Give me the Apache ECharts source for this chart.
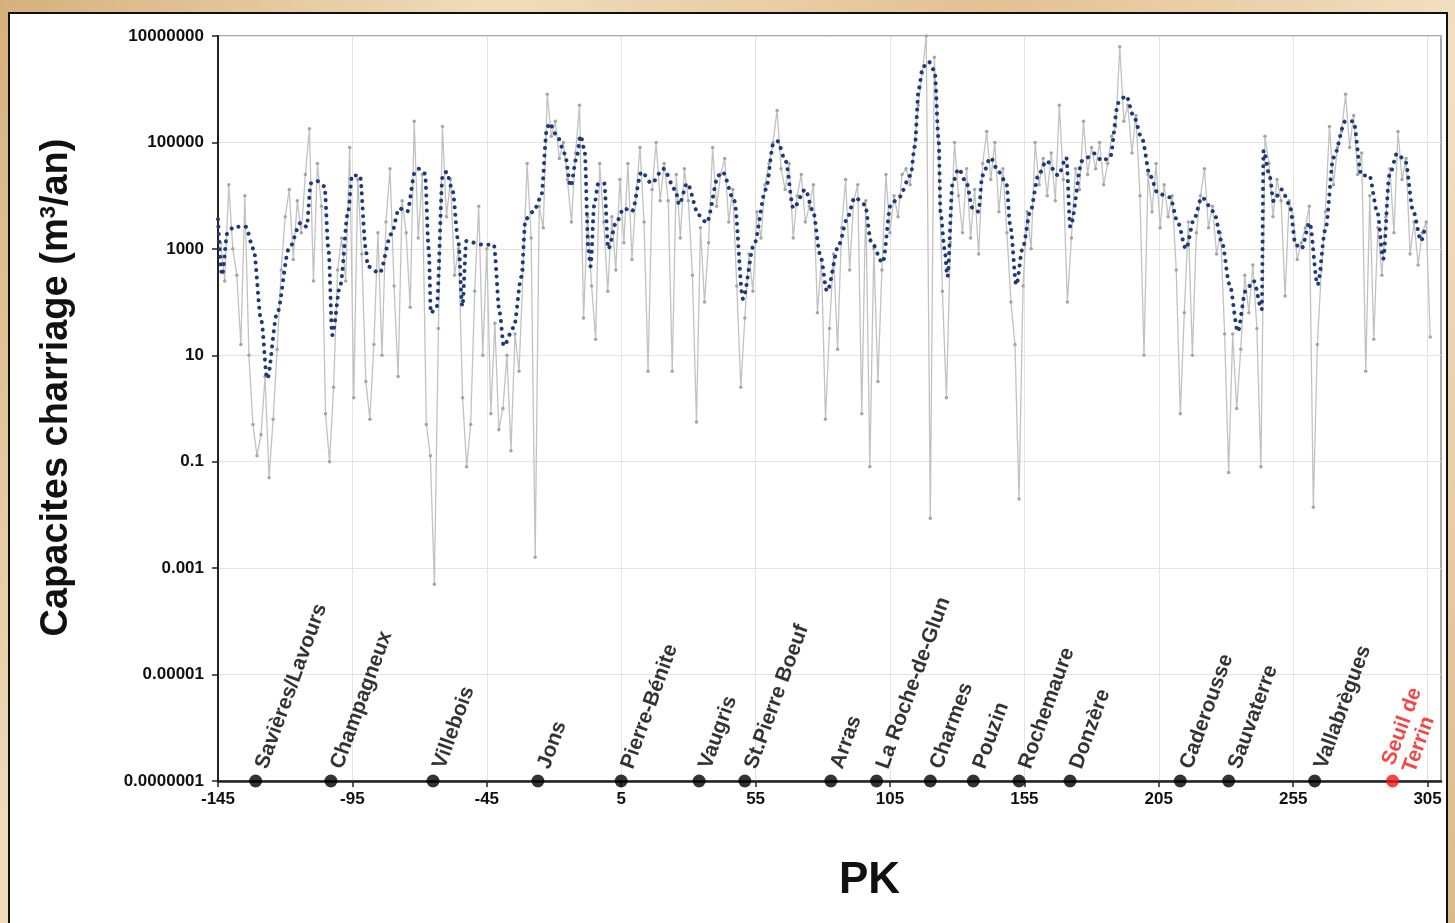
<!DOCTYPE html>
<html><head><meta charset="utf-8">
<script src="https://cdn.jsdelivr.net/npm/echarts@6/dist/echarts.min.js"></script>
<style>
html,body{margin:0;padding:0;width:1455px;height:923px;overflow:hidden;
background:linear-gradient(120deg,#d6b07c 0%,#f0dcbc 25%,#e3c193 50%,#f2e0c4 75%,#dcb98a 100%);}
#panel{position:absolute;left:8px;top:12px;width:1440px;height:920px;background:#fff;border:2px solid #111;box-sizing:border-box;}
#chart{position:absolute;left:0;top:0;width:1455px;height:923px;}
</style></head><body><div id="panel"></div><div id="chart"></div>
<script>
// ---- Axis ticks ----
const xTicks = [-145, -95, -45, 5, 55, 105, 155, 205, 255, 305];
const yTickValues = [1e-7, 1e-5, 1e-3, 1e-1, 10, 1000, 100000, 10000000];
const yTickLabels = ['0.0000001', '0.00001', '0.001', '0.1', '10', '1000', '100000', '10000000'];

// ---- Raw capacities (grey), one value every 1.5 km starting at PK -144 ----
const grayStart = -144;
const grayStep = 1.5;
const grayValues = [
  1.3e3, 2.5e2, 1.6e4, 1e3, 3.2e2, 16, 1e4, 10, 0.5, 0.13,
  0.32, 4, 0.05, 0.63, 13, 400, 4e3, 1.3e4, 630, 8e3,
  2e3, 2.5e4, 1.8e5, 250, 4e4, 6.3e3, 0.8, 0.1, 2.5, 400,
  1.6e3, 250, 8e4, 1.6, 2e4, 800, 3.2, 0.63, 16, 2e3,
  10, 3.2e3, 3.2e4, 200, 4, 8e3, 2e3, 80, 2.5e5, 1.6e3,
  2.5e4, 0.5, 0.13, 5e-4, 32, 2e5, 4e3, 2e4, 320, 1e3,
  1.6, 0.08, 0.5, 160, 6.3e3, 10, 1e3, 0.8, 40, 0.4,
  1, 10, 0.16, 25, 5, 400, 4e4, 1.6e3, 1.6e-3, 6.3e3,
  2.5e3, 8e5, 1.3e5, 2.5e5, 5e4, 1e5, 2e4, 3.2e3, 6.3e4, 5e5,
  50, 4e3, 200, 20, 4e4, 3.2e3, 160, 4e3, 400, 2e4,
  1.3e3, 4e4, 630, 1e4, 8e4, 3.2e3, 5, 1.3e4, 1e5, 8e3,
  4e4, 8e3, 5, 2.5e4, 1.6e3, 3.2e4, 8e3, 320, 0.56, 2.5e3,
  100, 1.3e3, 8e4, 6.3e3, 2.5e4, 5e4, 3.2e3, 1.3e4, 200, 2.5,
  50, 800, 160, 5e3, 1.6e3, 1.6e4, 4e4, 1e5, 4e5, 3.2e4,
  1.3e4, 4e4, 1.6e3, 1e4, 2.5e4, 3.2e3, 6.3e3, 1.6e4, 63, 630,
  0.63, 32, 800, 13, 2.5e3, 2e4, 400, 8e3, 1.6e4, 0.8,
  8e3, 0.08, 1e3, 3.2, 400, 2.5e4, 2e3, 1e4, 4e3, 2.5e4,
  3.2e4, 1.6e4, 8e4, 5e5, 2e6, 1e7, 8.7e-3, 4e6, 1e5, 160,
  1.6, 1.3e3, 1e5, 1e4, 2e3, 3.2e4, 1.6e3, 1.3e4, 800, 4e4,
  1.6e5, 2e4, 1e5, 5e3, 3.2e4, 2e3, 100, 16, 0.02, 200,
  5e3, 1e3, 1e5, 1.6e4, 5e4, 1e4, 6.3e4, 8e3, 5e5, 2e4,
  100, 1.6e3, 3.2e4, 1.3e4, 2.5e5, 2.5e4, 8e4, 3.2e4, 1e5, 1.6e4,
  4e4, 1.3e5, 2e5, 6.3e6, 2.5e5, 5e5, 6.3e4, 3.2e5, 1e4, 10,
  2.5e4, 5e3, 4e4, 2.5e3, 1.6e4, 4e3, 1e4, 400, 0.8, 63,
  3.2e3, 10, 2e3, 1e4, 3.2e4, 2.5e3, 6.3e3, 800, 2e3, 25,
  0.063, 25, 1, 13, 320, 63, 500, 32, 0.08, 1.3e5,
  4e4, 4e3, 2e4, 8e3, 130, 8e3, 4e3, 630, 1.3e3, 2.5e3,
  6.3e3, 0.014, 16, 400, 5e3, 2e5, 1.6e4, 8e4, 1.6e5, 8e5,
  8e4, 3.2e5, 2.5e4, 6.3e4, 5, 1e4, 20, 2.5e3, 320, 4e3,
  3.2e4, 2e3, 1.6e5, 2e4, 5e4, 800, 3.2e3, 500, 2e3, 3.2e3, 22
];

// ---- Smoothed capacities (blue dotted) ----
const bluePK = [
  -145, -143.5, -141.5, -139.1, -134.7, -131.8, -128.9, -126.7, -123.0, -118.6,
  -114.2, -112.0, -110.5, -108.3, -105.4, -103.9, -102.5, -99.5, -96.6, -95.1,
  -92.2, -90.0, -89.3, -84.9, -80.5, -77.6, -74.6, -71.7, -70.2, -68.0,
  -66.6, -65.8, -63.6, -61.4, -60.0, -57.8, -55.6, -54.1, -52.6, -46.8,
  -42.4, -40.2, -38.7, -35.0, -32.1, -30.6, -27.7, -24.8, -22.6, -21.8,
  -18.9, -16.0, -13.8, -11.6, -10.1, -8.6, -7.2, -6.4, -5.0, -3.5,
  -1.3, 0.2, 3.1, 6.0, 9.0, 12.6, 16.3, 20.7, 25.1, 26.6,
  29.5, 33.9, 36.8, 41.2, 42.7, 47.1, 50.3, 54.4, 58.8, 61.7,
  63.2, 66.1, 69.1, 73.5, 76.4, 79.0, 81.6, 86.0, 89.0, 91.9,
  95.7, 97.9, 102.3, 105.3, 108.3, 112.7, 114.2, 115.7, 117.2, 119.4,
  121.6, 123.1, 123.8, 125.3, 126.4, 128.3, 130.5, 133.5, 135.7, 137.9,
  139.4, 142.4, 145.4, 148.3, 149.8, 152.0, 154.3, 157.2, 160.2, 163.2,
  167.6, 170.6, 172.1, 176.5, 181.0, 183.9, 186.9, 189.9, 192.8, 195.8,
  198.8, 201.7, 204.7, 209.2, 212.1, 215.1, 218.1, 221.0, 225.5, 228.4,
  231.4, 234.4, 237.3, 240.3, 243.3, 244.0, 246.2, 247.7, 250.7, 253.7,
  255.9, 258.1, 261.1, 264.1, 267.0, 270.0, 274.4, 277.4, 280.4, 283.3,
  286.3, 288.5, 290.8, 293.7, 296.7, 299.7, 302.6, 304.1
];
const blueValues = [
  3.6e3, 320, 2e3, 2.6e3, 2.6e3, 1e3, 45, 3.6, 62, 1e3,
  3.1e3, 2.6e3, 1.7e4, 1.9e4, 1.5e4, 1e3, 24, 210, 5e3, 2.4e4,
  2.4e4, 1e3, 470, 350, 1.9e3, 5.8e3, 5e3, 2.8e4, 3.2e4, 2.6e4,
  1e3, 62, 83, 2.4e4, 2.8e4, 1.3e4, 1.4e3, 83, 1.4e3, 1.2e3,
  1.2e3, 62, 15, 33, 300, 3.6e3, 5e3, 9.3e3, 1.8e5, 2.3e5,
  1.35e5, 6.2e4, 1.5e4, 5.2e4, 1.35e5, 7.1e4, 1e3, 470, 6.8e3, 1.7e4,
  1.7e4, 1e3, 3.1e3, 5.8e3, 5e3, 2.8e4, 1.7e4, 3.2e4, 1.3e4, 6.8e3,
  1.7e4, 4.3e3, 3.1e3, 2.4e4, 2.8e4, 7.9e3, 115, 1.2e3, 1.3e4, 9.8e4,
  1.05e5, 4.5e4, 5.8e3, 1.3e4, 5e3, 790, 160, 1.2e3, 3.6e3, 9.3e3,
  6.8e3, 1.4e3, 550, 6.8e3, 9.3e3, 2.4e4, 8.3e4, 1.02e6, 2.6e6, 3.3e6,
  2.2e6, 1.15e5, 5e3, 1e3, 300, 1.7e4, 3.2e4, 1.7e4, 5.8e3, 5e3,
  2.4e4, 5.2e4, 2.8e4, 1.7e4, 2.6e3, 210, 1e3, 5e3, 2.4e4, 4.5e4,
  2.4e4, 5.2e4, 2.6e3, 4.5e4, 6.2e4, 4.5e4, 5.2e4, 5.5e5, 7.6e5, 3e5,
  1.15e5, 2.4e4, 1.1e4, 9.3e3, 3.1e3, 1e3, 3.6e3, 9.3e3, 5e3, 1.4e3,
  210, 28, 160, 250, 72, 7.1e4, 2.4e4, 7.9e3, 1.3e4, 6.8e3,
  1.2e3, 1e3, 3.1e3, 210, 2.3e3, 5.2e4, 2.5e5, 2.5e5, 2.4e4, 2.4e4,
  5e3, 650, 2.4e4, 6.2e4, 4.5e4, 5e3, 1.4e3, 2.6e3
];

// ---- Towns (dams) along the river ----
const towns = ['Savières/Lavours', 'Champagneux', 'Villebois', 'Jons', 'Pierre-Bénite', 'Vaugris',
  'St.Pierre Boeuf', 'Arras', 'La Roche-de-Glun', 'Charmes', 'Pouzin', 'Rochemaure', 'Donzère',
  'Caderousse', 'Sauvaterre', 'Vallabrègues', 'Seuil de\nTerrin'];
const townPK = [-131, -103, -65, -26, 5, 34, 51, 83, 100, 120, 136, 153, 172, 213, 231, 263, 292];
const townIsThreshold = [false, false, false, false, false, false, false, false, false, false,
  false, false, false, false, false, false, true];

const FONT = "'Liberation Sans', Arial, Helvetica, sans-serif";
const grayData = grayValues.map((v, i) => [grayStart + i * grayStep, v]);
const blueData = bluePK.map((pk, i) => [pk, blueValues[i]]);
const townData = towns.map((t, i) => ({
  name: t,
  value: [townPK[i], 1e-7],
  itemStyle: {color: townIsThreshold[i] ? '#f01818' : '#000'},
  label: {color: townIsThreshold[i] ? '#f01818' : '#000'}
}));

const chart = echarts.init(document.getElementById('chart'));
chart.setOption({
  animation: false,
  grid: {left: 218, right: 14, top: 36, bottom: 142, show: true, borderColor: '#8c8c8c', borderWidth: 1.5},
  xAxis: {
    type: 'value', min: -145, max: 310,
    axisLine: {show: true, onZero: false, lineStyle: {color: '#222', width: 2.5}},
    axisTick: {show: true, length: 6, lineStyle: {color: '#222', width: 1.5}, customValues: xTicks},
    axisLabel: {customValues: xTicks, color: '#111', fontFamily: FONT, fontWeight: 'bold', fontSize: 17, margin: 10},
    splitLine: {show: true, lineStyle: {color: '#e3e3e3', width: 1}},
    name: 'PK', nameLocation: 'middle', nameGap: 78,
    nameTextStyle: {fontFamily: FONT, fontWeight: 'bold', fontSize: 44, color: '#111', padding: [0, 0, 0, 80]}
  },
  yAxis: {
    type: 'log', logBase: 10, min: 1e-7, max: 1e7,
    axisLine: {show: true, onZero: false, lineStyle: {color: '#222', width: 2}},
    axisTick: {show: true, length: 6, lineStyle: {color: '#222', width: 1.5}, customValues: yTickValues},
    axisLabel: {
      customValues: yTickValues, color: '#111', fontFamily: FONT, fontWeight: 'bold', fontSize: 17, margin: 14,
      formatter: v => yTickLabels[Math.round((Math.log10(v) + 7) / 2)]
    },
    splitLine: {show: true, lineStyle: {color: '#e3e3e3', width: 1}},
    minorTick: {show: false}, minorSplitLine: {show: false},
    name: 'Capacites charriage (m{sup|3}/an)', nameLocation: 'middle', nameGap: 142,
    nameTextStyle: {
      fontFamily: FONT, fontWeight: 'bold', fontSize: 38, color: '#111', padding: [0, 0, 0, 42],
      rich: {sup: {fontFamily: FONT, fontWeight: 'bold', fontSize: 22, color: '#111', verticalAlign: 'top', lineHeight: 38}}
    }
  },
  series: [
    {
      type: 'line', data: grayData, z: 2,
      symbol: 'circle', symbolSize: 3.5, showSymbol: true,
      lineStyle: {color: '#c2c2c2', width: 1.3},
      itemStyle: {color: '#a5a5a5'}
    },
    {
      type: 'line', data: blueData, z: 3, smooth: 0.3, smoothMonotone: 'x',
      symbol: 'none',
      lineStyle: {color: '#1e3b78', width: 4, type: [0.1, 7.4], cap: 'round'}
    },
    {
      type: 'scatter', data: townData, z: 5, symbolSize: 13, clip: false,
      label: {
        show: true, formatter: p => p.name, rotate: 70, position: [12.5, -6.5],
        align: 'left', verticalAlign: 'middle',
        fontFamily: FONT, fontWeight: 'bold', fontSize: 21, lineHeight: 22
      }
    }
  ]
});
</script></body></html>
